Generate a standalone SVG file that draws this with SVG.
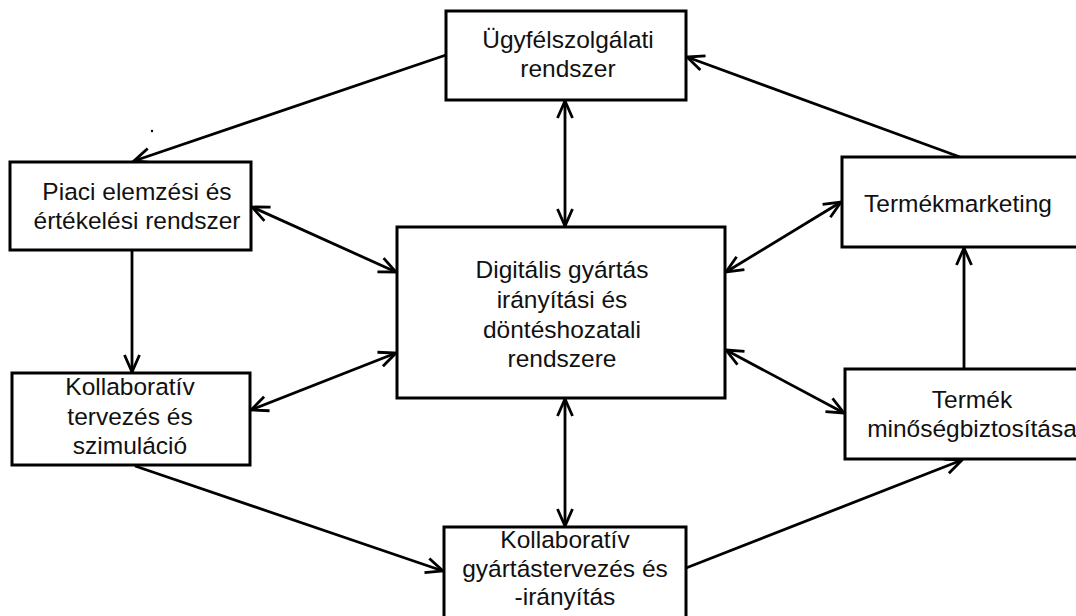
<svg xmlns="http://www.w3.org/2000/svg" width="1076" height="616" viewBox="0 0 1076 616">
  <style>
    .box { fill: #ffffff; stroke: #000000; stroke-width: 3; }
    .lbl { font-family: "Liberation Sans", Arial, sans-serif; font-size: 24.5px; fill: #111111; text-anchor: middle; }
    .link { fill: none; stroke: #000000; stroke-width: 2.8; }
  </style>
  <defs>
    <marker id="head" markerUnits="userSpaceOnUse" markerWidth="24" markerHeight="20" viewBox="-20 -10 24 20" refX="0" refY="0" orient="auto-start-reverse">
      <path d="M-17,-7.5 L0,0 L-17,7.5" fill="none" stroke="#000000" stroke-width="2.8"/>
    </marker>
  </defs>

  <rect width="1076" height="616" fill="#ffffff"/>

  <!-- connectors -->
  <g id="connectors">
    <line class="link" x1="446" y1="55" x2="134" y2="161" marker-end="url(#head)"/>
    <line class="link" x1="960" y1="157" x2="687" y2="57" marker-end="url(#head)"/>
    <line class="link" x1="565" y1="101" x2="565" y2="226" marker-start="url(#head)" marker-end="url(#head)"/>
    <line class="link" x1="252" y1="207" x2="396" y2="272" marker-start="url(#head)" marker-end="url(#head)"/>
    <line class="link" x1="132" y1="251" x2="132" y2="372" marker-end="url(#head)"/>
    <line class="link" x1="251" y1="410" x2="396" y2="353" marker-start="url(#head)" marker-end="url(#head)"/>
    <line class="link" x1="135" y1="466" x2="443" y2="571" marker-end="url(#head)"/>
    <line class="link" x1="565" y1="399" x2="565" y2="526" marker-start="url(#head)" marker-end="url(#head)"/>
    <line class="link" x1="686" y1="568" x2="962" y2="460" marker-end="url(#head)"/>
    <line class="link" x1="726" y1="272" x2="841" y2="202" marker-start="url(#head)" marker-end="url(#head)"/>
    <line class="link" x1="726" y1="350" x2="844" y2="413" marker-start="url(#head)" marker-end="url(#head)"/>
    <line class="link" x1="964" y1="368" x2="964" y2="248" marker-end="url(#head)"/>
  </g>

  <!-- stray mark -->
  <circle cx="152" cy="131" r="1.2" fill="#000000"/>

  <g id="ugyfelszolgalati">
    <rect class="box" x="446" y="11" width="240" height="89"/>
    <text class="lbl" x="568" y="48">Ügyfélszolgálati</text>
    <text class="lbl" x="568" y="77">rendszer</text>
  </g>

  <g id="piaci-elemzes">
    <rect class="box" x="10" y="162" width="241" height="88"/>
    <text class="lbl" x="137" y="200">Piaci elemzési és</text>
    <text class="lbl" x="137" y="229">értékelési rendszer</text>
  </g>

  <g id="kollab-tervezes">
    <rect class="box" x="12" y="373" width="238" height="92"/>
    <text class="lbl" x="130" y="395">Kollaboratív</text>
    <text class="lbl" x="130" y="425">tervezés és</text>
    <text class="lbl" x="130" y="454">szimuláció</text>
  </g>

  <g id="digitalis-gyartas">
    <rect class="box" x="397" y="227" width="328" height="171"/>
    <text class="lbl" x="562" y="278">Digitális gyártás</text>
    <text class="lbl" x="562" y="308">irányítási és</text>
    <text class="lbl" x="562" y="338">döntéshozatali</text>
    <text class="lbl" x="562" y="367">rendszere</text>
  </g>

  <g id="termekmarketing">
    <rect class="box" x="842" y="157" width="250" height="90"/>
    <text class="lbl" x="958" y="212">Termékmarketing</text>
  </g>

  <g id="minosegbiztositas">
    <rect class="box" x="845" y="369" width="250" height="90"/>
    <text class="lbl" x="972" y="408">Termék</text>
    <text class="lbl" x="972" y="437">minőségbiztosítása</text>
  </g>

  <g id="kollab-gyartas">
    <rect class="box" x="444" y="527" width="242" height="100"/>
    <text class="lbl" x="565" y="548">Kollaboratív</text>
    <text class="lbl" x="565" y="577">gyártástervezés és</text>
    <text class="lbl" x="565" y="605">-irányítás</text>
  </g>
</svg>
